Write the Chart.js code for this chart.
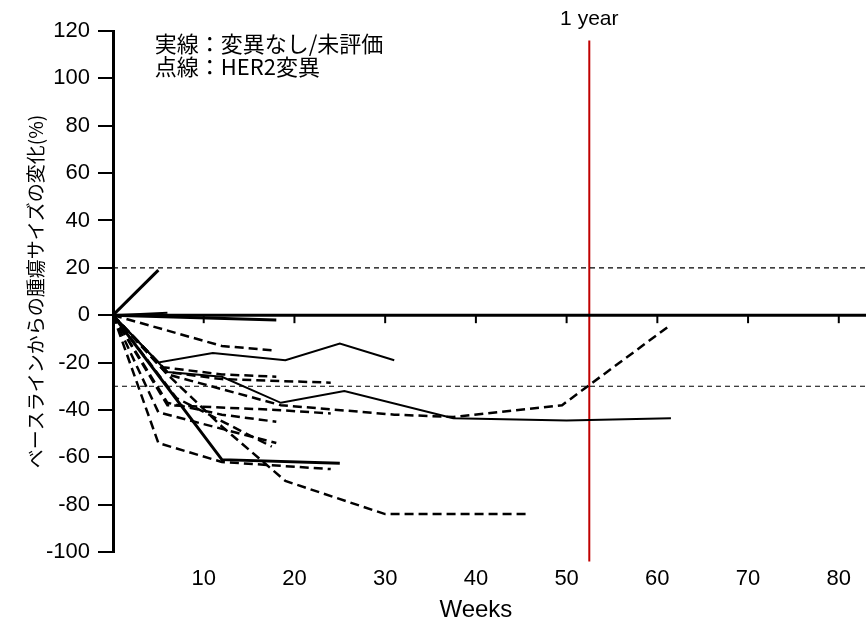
<!DOCTYPE html>
<html><head><meta charset="utf-8">
<script src="https://cdn.jsdelivr.net/npm/chart.js@4.4.1/dist/chart.umd.min.js"></script>
<style>html,body{margin:0;padding:0;background:#fff}#wrap{width:866px;height:627px}</style>
</head><body><div id="wrap"><canvas id="c" width="866" height="627"></canvas></div>
<script>
// ---- data (weeks, % change from baseline) ----
const xTickWeeks = [10, 20, 30, 40, 50, 60, 70, 80];
const yTickValues = [-100, -80, -60, -40, -20, 0, 20, 40, 60, 80, 100, 120];
const oneYearWeek = 52.5;
const pdLine = 20;     // +20% threshold
const prLine = -30;    // -30% threshold

// solid lines: no mutation / not evaluated
const solid1 = [[0, 0], [5, 19]];
const solid2 = [[0, 0], [6, 1]];
const solid3 = [[0, 0], [18, -2]];
const solid4 = [[0, 0], [5, -20], [11, -16], [19, -19], [25, -12], [31, -19]];
const solid5 = [[0, 0], [12, -61], [25, -62.5]];
const solid6 = [[0, 0], [6, -24], [12, -26], [18.5, -37], [25.5, -32], [37.5, -43.5], [50, -44.5], [61.5, -43.5]];

// dashed lines: HER2 mutation
const dash1 = [[0, 0], [12, -13], [18, -15]];
const dash2 = [[0, 0], [5.5, -22], [12, -25], [18, -26]];
const dash3 = [[0, 0], [6, -24], [12, -27], [24, -28.5]];
const dash4 = [[0, 0], [6, -25], [18.5, -38], [31, -42], [37.5, -43], [49.5, -38], [61.5, -4]];
const dash5 = [[0, 0], [6, -38], [18, -40], [24, -41.5]];
const dash6 = [[0, 0], [6, -37], [12, -42], [18, -45]];
const dash7 = [[0, 0], [5, -41], [18, -54]];
const dash8 = [[0, 0], [7, -35], [17.5, -55.5]];
const dash9 = [[0, 0], [5, -54], [12, -62], [24, -65]];
const dash10 = [[0, 0], [6, -25], [12, -47], [19, -70], [30, -84], [46, -84]];

const legendLines = ['実線：変異なし/未評価', '点線：HER2変異'];
const xMin = 0, xMax = 83, yMin = -100, yMax = 120;

// ---- build datasets ----
const toPts = arr => arr.map(p => ({x: p[0], y: p[1]}));
const datasets = [];
[[solid1, 3], [solid2, 2], [solid3, 3], [solid4, 2], [solid5, 3], [solid6, 2]].forEach(([s, w]) => {
  datasets.push({data: toPts(s), borderColor: '#000', borderWidth: w, pointRadius: 0, tension: 0, fill: false});
});
[dash1, dash2, dash3, dash4, dash5, dash6, dash7, dash8, dash9, dash10].forEach(s => {
  datasets.push({data: toPts(s), borderColor: '#000', borderWidth: 2.5, borderDash: [9, 5], pointRadius: 0, tension: 0, fill: false});
});
[pdLine, prLine].forEach(v => {
  datasets.push({data: [{x: xMin, y: v}, {x: xMax, y: v}], borderColor: '#000', borderWidth: 1.2, borderDash: [5, 4], pointRadius: 0, fill: false});
});
datasets.push({data: [{x: oneYearWeek, y: 116}, {x: oneYearWeek, y: -104}], borderColor: '#c00000', borderWidth: 2, pointRadius: 0, fill: false, clip: false});

const decor = {
  id: 'decor',
  afterDatasetsDraw(chart) {
    const {ctx, scales: {x, y}, chartArea} = chart;
    const y0 = y.getPixelForValue(0);
    ctx.save();
    // zero axis with downward ticks
    ctx.strokeStyle = '#000';
    ctx.lineWidth = 3;
    ctx.beginPath();
    ctx.moveTo(chartArea.left, y0);
    ctx.lineTo(chartArea.right, y0);
    ctx.stroke();
    ctx.lineWidth = 2;
    xTickWeeks.forEach(w => {
      const px = x.getPixelForValue(w);
      ctx.beginPath();
      ctx.moveTo(px, y0);
      ctx.lineTo(px, y0 + 8);
      ctx.stroke();
    });
    // legend text
    ctx.fillStyle = '#000';
    ctx.font = '22px "Noto Sans CJK JP", "Liberation Sans", sans-serif';
    ctx.textAlign = 'left';
    ctx.textBaseline = 'middle';
    ctx.fillText(legendLines[0], x.getPixelForValue(4.6), 44);
    ctx.fillText(legendLines[1], x.getPixelForValue(4.6), 67);
    // 1 year label
    ctx.font = '21px "Liberation Sans", Arial, sans-serif';
    ctx.textAlign = 'center';
    ctx.fillText('1 year', x.getPixelForValue(oneYearWeek), 19);
    // x title
    ctx.font = '24px "Liberation Sans", Arial, sans-serif';
    ctx.fillText('Weeks', x.getPixelForValue(40), 610);
    ctx.restore();
  }
};

new Chart(document.getElementById('c'), {
  type: 'line',
  data: {datasets},
  plugins: [decor],
  options: {
    responsive: false,
    animation: false,
    devicePixelRatio: 1,
    layout: {padding: {top: 31, right: 0, bottom: 0, left: 0}},
    plugins: {legend: {display: false}, tooltip: {enabled: false}},
    scales: {
      x: {
        type: 'linear', min: xMin, max: xMax,
        afterFit: s => { s.height = 75; },
        afterBuildTicks: s => { s.ticks = [0, ...xTickWeeks].map(v => ({value: v})); },
        grid: {display: false, drawTicks: false},
        border: {display: false},
        ticks: {
          padding: 14, color: '#000', maxRotation: 0, autoSkip: false,
          font: {family: '"Liberation Sans", Arial, sans-serif', size: 22},
          callback: v => (v === 0 ? '' : String(v))
        }
      },
      y: {
        type: 'linear', min: yMin, max: yMax,
        afterFit: s => { s.width = 113; },
        afterBuildTicks: s => { s.ticks = yTickValues.map(v => ({value: v})); },
        grid: {drawOnChartArea: false, drawTicks: true, tickLength: 15, color: '#000', lineWidth: 2},
        border: {display: true, color: '#000', width: 3},
        ticks: {
          padding: 8, color: '#000', autoSkip: false,
          font: {family: '"Liberation Sans", Arial, sans-serif', size: 22},
          callback: v => String(v)
        },
        title: {
          display: true, text: 'ベースラインからの腫瘍サイズの変化(%)', color: '#000',
          font: {family: '"Noto Sans CJK JP", sans-serif', size: 19},
          padding: {top: 24, bottom: 0}
        }
      }
    }
  }
});
</script></body></html>
